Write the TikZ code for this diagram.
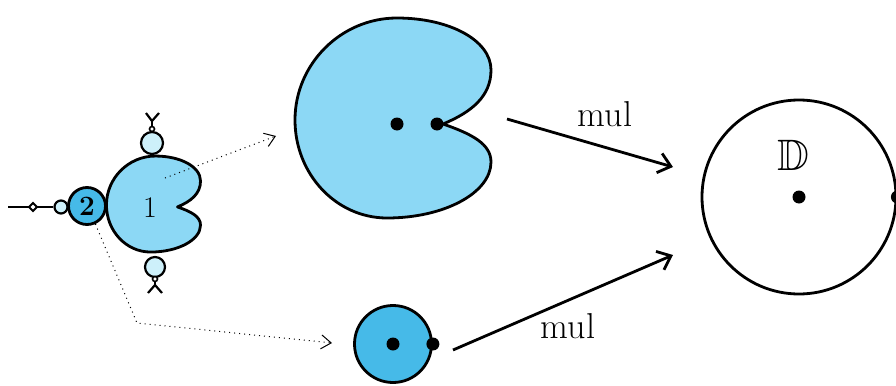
\documentclass[tikz,border=0pt]{standalone}
\usepackage{amssymb}
\usetikzlibrary{arrows.meta}
\definecolor{lobe}{RGB}{140,216,245}
\definecolor{disk}{RGB}{70,186,232}
\definecolor{bud}{RGB}{205,240,250}
\begin{document}
\begin{tikzpicture}[x=0.5pt,y=-0.5pt,
  outline/.style={line width=1.4pt, line join=round},
  thinline/.style={line width=1.1pt, line join=round},
  dotarrow/.style={line width=0.5pt, dotted, -{Straight Barb[length=5pt,width=7pt]}},
  mularrow/.style={line width=1.4pt, -{Straight Barb[length=6pt,width=10pt,line width=1.4pt]}},
  pt/.style={circle, fill=black, inner sep=0pt, minimum size=6.5pt},
  lbl/.style={font=\fontsize{18}{20}\selectfont},
  kidney/.pic={
    \draw[outline, fill=lobe]
      (51,4) .. controls (80,-8) and (99,-24) .. (99,-50)
      .. controls (99,-80) and (57,-102) .. (5,-102)
      .. controls (-51,-102) and (-97,-56) .. (-97,0)
      .. controls (-97,54) and (-56,98) .. (-5,98)
      .. controls (52,98) and (99,73) .. (99,42)
      .. controls (99,24) and (80,14) .. (51,4) -- cycle;
  }]
\useasboundingbox (0,0) rectangle (896,386);

% small kidney with its buds and the period-2 disk
\pic[scale=0.48] at (153,205) {kidney};
\node[font=\fontsize{15}{17}\selectfont] (one) at (150,208) {1};

\node[circle, draw, thinline, fill=bud, minimum size=11pt, inner sep=0pt] (budT) at (152,143) {};
\node[circle, draw, line width=0.8pt, fill=white, minimum size=2.5pt, inner sep=0pt] (tipT) at (152,129) {};
\draw[thinline] (tipT.north) -- (152,121) coordinate (forkT);
\draw[thinline] (146,113) -- (forkT) -- (159,113);

\node[circle, draw, thinline, fill=bud, minimum size=10pt, inner sep=0pt] (budB) at (155,267) {};
\node[circle, draw, line width=0.8pt, fill=white, minimum size=2.5pt, inner sep=0pt] (tipB) at (155,279) {};
\draw[thinline] (tipB.south) -- (155,285) coordinate (forkB);
\draw[thinline] (148,293) -- (forkB) -- (162,293);

\node[circle, draw, outline, fill=disk, minimum size=18.5pt, inner sep=0pt, font=\fontsize{14}{16}\selectfont\bfseries] (two) at (87,206) {2};
\node[circle, draw, thinline, fill=bud, minimum size=6.5pt, inner sep=0pt] (budL) at (61,207) {};
\coordinate (antenna) at (8,207);
\draw[thinline] (antenna) -- (budL.west);
\draw[line width=0.9pt, fill=white] (29,207) -- (33,203) -- (37,207) -- (33,211) -- cycle;

% big kidney
\pic at (392,120) {kidney};
\node[pt] (c0) at (397,124) {};
\node[pt] (c1) at (437,124) {};

% small disk
\node[circle, draw, outline, fill=disk, minimum size=38.5pt, inner sep=0pt] (sd) at (393,344) {};
\node[pt] (s0) at (sd.center) {};
\node[pt] (s1) at (sd.east) {};

% unit disk
\node[circle, draw, outline, minimum size=97pt, inner sep=0pt] (D) at (799,197) {};
\node[pt] (d0) at (D.center) {};
\node[pt] (d1) at (D.east) {};
\node[font=\fontsize{22}{24}\selectfont] (Dlbl) at (793,155) {$\mathbb{D}$};

% dotted correspondences
\coordinate (k1) at (165,178);
\coordinate (t1) at (276,136);
\draw[dotarrow] (k1) -- (t1);
\coordinate (bend) at (137,323);
\coordinate (t2) at (332,343);
\draw[dotarrow] (two.-65) -- (bend) -- (t2);

% multiplier maps
\coordinate (m1s) at (507,119);
\coordinate (m1e) at (673,167);
\draw[mularrow] (m1s) -- (m1e);
\node[lbl] (mul1) at (605,114) {mul};
\coordinate (m2s) at (453,350);
\coordinate (m2e) at (673,255);
\draw[mularrow] (m2s) -- (m2e);
\node[lbl] (mul2) at (568,326) {mul};
\end{tikzpicture}
\end{document}
